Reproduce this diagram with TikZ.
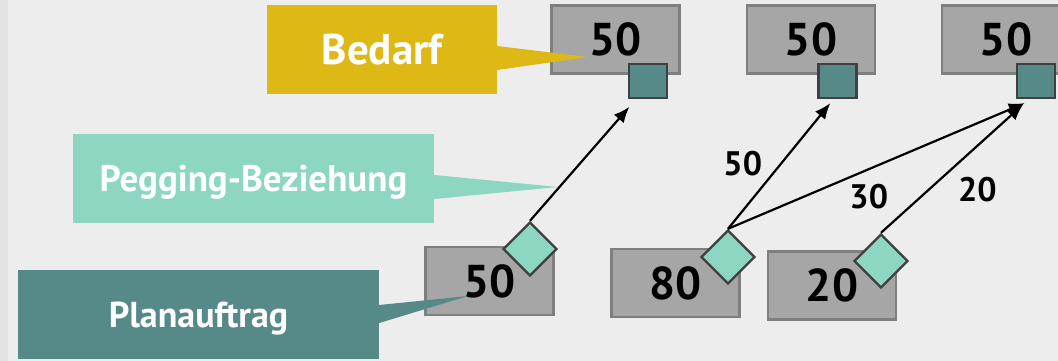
\documentclass[tikz,border=0pt]{standalone}
\usepackage{fontspec}
\setmainfont{PT Sans}
\usepackage{tikz}
\usetikzlibrary{shapes.geometric,arrows.meta}

\definecolor{bg}{HTML}{EDEDED}
\definecolor{boxgray}{HTML}{A6A6A6}
\definecolor{boxline}{HTML}{7F7F7F}
\definecolor{darkteal}{HTML}{568A88}
\definecolor{mint}{HTML}{8DD6C2}
\definecolor{gold}{HTML}{DEB814}
\definecolor{edgegray}{HTML}{404040}

\begin{document}
\begin{tikzpicture}[x=1pt,y=-1pt,
    qty/.style={rectangle,draw=boxline,line width=2.4pt,fill=boxgray,minimum width=128pt,minimum height=68pt,inner sep=0pt,font=\fontsize{46}{50}\selectfont\bfseries},
    res/.style={rectangle,draw=edgegray,line width=2.4pt,fill=darkteal,minimum width=38pt,minimum height=34pt,inner sep=0pt},
    peg/.style={diamond,draw=edgegray,line width=2.4pt,fill=mint,minimum width=54pt,minimum height=54pt,inner sep=0pt},
    tag/.style={rectangle,minimum width=#1,minimum height=89pt,inner sep=0pt,text=white,text depth=0pt},
    link/.style={line width=2.2pt,-{Latex[length=16pt,width=13pt]}},
    amount/.style={font=\fontsize{34}{38}\selectfont\bfseries}]
    \useasboundingbox (0,0) rectangle (1058,361);
    \fill[bg] (0,0) rectangle (1058,361);
    \fill[bg!96!black] (0,0) rectangle (8,361);
    % Bedarfe
    \node[qty] (dem1) at (615.5,39.5) {50};
    \node[qty] (dem2) at (811,39.5) {50};
    \node[qty] (dem3) at (1006,39.5) {50};
    \node[res] (sq1) at (648,81) {};
    \node[res] (sq2) at (837.5,81) {};
    \node[res] (sq3) at (1036,81) {};
    % Planauftraege
    \node[qty] (pa1) at (489.5,281) {50};
    \node[qty] (pa2) at (675.5,283) {80};
    \node[qty] (pa3) at (832,285.5) {20};
    \node[peg] (d1) at (530,249) {};
    \node[peg] (d2) at (728,257) {};
    \node[peg] (d3) at (881,261) {};
    % Pegging
    \draw[link,shorten >=10pt] (d1.north) -- ([xshift=-12pt]sq1.south);
    \draw[link,shorten >=5pt] (d2.north) -- ([xshift=-4pt]sq2.south)
      node[amount,pos=.5,xshift=-38pt]{50};
    \draw[link,shorten >=10pt] (d2.north) -- ([xshift=-2pt]sq3.south)
      node[amount,pos=.46,yshift=-27pt]{30};
    \draw[link,shorten >=8pt] (d3.north) -- ([xshift=-7pt]sq3.south)
      node[amount,pos=.32,xshift=49pt]{20};
    % Legende
    \node[tag=230pt,fill=gold,font=\fontsize{43}{46}\selectfont\bfseries] (bed) at (382,49.5) {Bedarf};
    \node[tag=361pt,fill=mint,font=\fontsize{37}{40}\selectfont\bfseries] (pegtag) at (253.5,178.5) {Pegging-Beziehung};
    \node[tag=361pt,fill=darkteal,font=\fontsize{36}{40}\selectfont\bfseries] (plan) at (198.5,314.5) {Planauftrag};
    \coordinate (bedtip) at (588,57);
    \coordinate (pegtip) at (558,187);
    \coordinate (plantip) at (468,296);
    \fill[gold] ([yshift=3.5pt]bed.east) -- (bedtip) -- ([yshift=-20.5pt]bed.east) -- cycle;
    \fill[mint] ([yshift=3.5pt]pegtag.east) -- (pegtip) -- ([yshift=-20.5pt]pegtag.east) -- cycle;
    \fill[darkteal] ([yshift=9.5pt]plan.east) -- (plantip) -- ([yshift=-8.5pt]plan.east) -- cycle;
\end{tikzpicture}
\end{document}
